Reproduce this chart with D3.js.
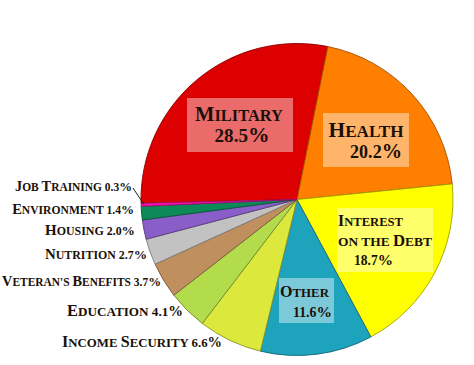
<!DOCTYPE html>
<html><head><meta charset="utf-8">
<script src="https://cdn.jsdelivr.net/npm/d3@7"></script>
<style>
html,body{margin:0;padding:0;background:#fff;}
text{font-family:"Liberation Serif","DejaVu Serif",serif;font-weight:bold;fill:#1a1008;}
</style></head><body>
<svg id="c" width="474" height="365"></svg>
<script>
const categories = ["Military","Health","Interest on the Debt","Other","Income Security","Education","Veteran's Benefits","Nutrition","Housing","Environment","Job Training"];
const values = [28.5,20.2,18.7,11.6,6.6,4.1,3.7,2.7,2.0,1.4,0.3];
const colors = ["#dd0000","#ff7f00","#ffff00","#1ea3bd","#dde83c","#b2dc4c","#c08f5e","#c2c2c2","#8a5ec8","#0c8a58","#ff10b0"];

const svg = d3.select("#c");
const cx = 297, cy = 199.5, R = 156;
const g = svg.append("g").attr("transform",`translate(${cx},${cy})`);
const startDeg = 11.4 - (28.5/99.8)*360;
const pie = d3.pie().sort(null).value(d=>d)
  .startAngle(startDeg*Math.PI/180).endAngle((startDeg+360)*Math.PI/180);
const arcs = pie(values);
const arc = d3.arc().innerRadius(0).outerRadius(R);
g.selectAll("path").data(arcs).enter().append("path")
  .attr("d",arc).attr("fill",(d,i)=>colors[i])
  .attr("stroke",(d,i)=>d3.color(colors[i]).darker(1.3))
  .attr("stroke-width",0.9).attr("stroke-linejoin","round");

// small-caps text builder, scaled to a target width
function scText(x, y, anchor, str, width){
  const t = svg.append("text").attr("x",x).attr("y",y).attr("text-anchor",anchor);
  const kind = ch => /[A-Z]/.test(ch) ? "big" : (/[a-z]/.test(ch) ? "small" : (ch==="%" ? "pct" : "num"));
  const ratio = {big:1, small:0.8, pct:0.9, num:0.8};
  const parts = [];
  for (const ch of str){
    const k = kind(ch);
    const last = parts[parts.length-1];
    if (last && last.k === k) last.s += ch; else parts.push({k, s:ch});
  }
  const spans = parts.map(p => t.append("tspan").text(p.s.toUpperCase()));
  function apply(base){
    spans.forEach((s,j)=> s.attr("font-size", base*ratio[parts[j].k]));
  }
  apply(16);
  const len = t.node().getComputedTextLength();
  apply(16*width/len);
  return t;
}

// inside labels with translucent boxes
const inside = [
  {i:0, box:[187,98,106,54], lines:[{t:"Military",x:239,y:121,a:"middle",w:88},{t:"28.5%",x:242,y:142,a:"middle",w:55}]},
  {i:1, box:[323,113,86,54], lines:[{t:"Health",x:366,y:137,a:"middle",w:75},{t:"20.2%",x:402,y:158,a:"end",w:52}]},
  {i:2, box:[337,208,96,64], lines:[{t:"Interest",x:338,y:226,a:"start",w:65},{t:"on the Debt",x:338,y:246,a:"start",w:94},{t:"18.7%",x:354,y:265,a:"start",w:39}]},
  {i:3, box:[279,278,55,45], lines:[{t:"Other",x:280,y:297,a:"start",w:49},{t:"11.6%",x:293,y:317,a:"start",w:39}]}
];
inside.forEach(L=>{
  svg.append("rect").attr("x",L.box[0]).attr("y",L.box[1]).attr("width",L.box[2]).attr("height",L.box[3])
    .attr("fill","#fff").attr("fill-opacity",0.42);
  L.lines.forEach(l=> scText(l.x,l.y,l.a,l.t,l.w));
});

// outside labels
const outside = [
  {i:10, x:132, y:191, w:117},
  {i:9, x:134, y:214, w:122},
  {i:8, x:135, y:235, w:90},
  {i:7, x:147, y:259, w:102},
  {i:6, x:161, y:286, w:159},
  {i:5, x:183, y:316, w:116},
  {i:4, x:222, y:347, w:160}
];
outside.forEach(o=>{
  scText(o.x,o.y,"end",categories[o.i]+" "+values[o.i].toFixed(1)+"%",o.w);
});
// leader for Job Training
const jt = arcs[10];
const mid = (jt.startAngle+jt.endAngle)/2;
svg.append("line").attr("x1",133).attr("y1",188)
  .attr("x2",cx+Math.sin(mid)*(R-3)).attr("y2",cy-Math.cos(mid)*(R-3))
  .attr("stroke","#222").attr("stroke-width",1);
</script></body></html>
